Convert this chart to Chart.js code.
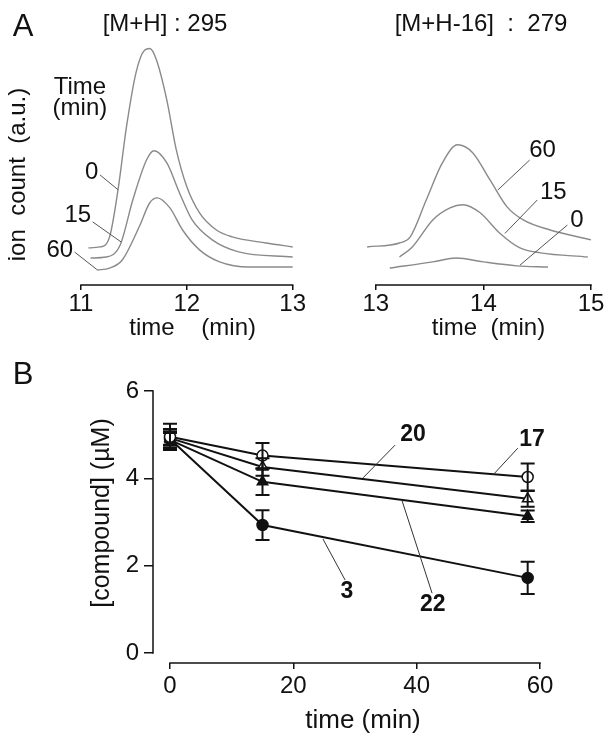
<!DOCTYPE html>
<html>
<head>
<meta charset="utf-8">
<script src="https://cdn.jsdelivr.net/npm/chart.js@4.4.1/dist/chart.umd.min.js"></script>
<style>
  body { margin: 0; background: #fff; }
  #wrap { position: relative; width: 612px; height: 744px; font-family: "Liberation Sans", Arial, sans-serif; color: #111; }
  canvas { position: absolute; }
  .lbl { position: absolute; white-space: pre; line-height: 1; transform: translate(-50%, -50%); }
</style>
</head>
<body>
<div id="wrap">
  <canvas id="a1" width="306" height="346" style="left:0;top:0"></canvas>
  <canvas id="a2" width="306" height="346" style="left:306px;top:0"></canvas>
  <canvas id="b" width="612" height="404" style="left:0;top:340px"></canvas>
  <div class="lbl" style="left:23px;top:25px;font-size:31px">A</div>
  <div class="lbl" style="left:165px;top:23px;font-size:24px">[M+H] : 295</div>
  <div class="lbl" style="left:481px;top:23px;font-size:24px">[M+H-16]  :  279</div>
  <div class="lbl" style="left:23px;top:373px;font-size:31px">B</div>
</div>
<script>
// panel A, left: [M+H] 295 traces (time in min, ion count in a.u.)
const a1Time0 = [11.07, 11.18, 11.27, 11.35, 11.43, 11.52, 11.6, 11.65, 11.71, 11.81, 11.9, 12.0, 12.12, 12.28, 12.43, 12.75, 13.0]
const a1Ion0 = [15.1, 15.5, 19.6, 38.8, 64.5, 86.5, 95.6, 96.3, 92.0, 75.5, 55.1, 40, 29.4, 22.4, 19.6, 17.1, 15.5]
const a1Time15 = [11.09, 11.24, 11.37, 11.49, 11.62, 11.69, 11.81, 11.93, 12.05, 12.24, 12.49, 13.0]
const a1Ion15 = [11.0, 11.4, 16.3, 34.7, 51.0, 54.7, 49.8, 37.6, 26.5, 18.4, 13.5, 11.4]
const a1Time60 = [11.15, 11.27, 11.39, 11.55, 11.65, 11.72, 11.84, 11.96, 12.12, 12.31, 12.59, 13.0]
const a1Ion60 = [6.1, 6.9, 10.2, 23.7, 33.5, 35.5, 31.4, 22.4, 14.3, 9.4, 7.3, 7.3]
const a1Ticks = [11, 12, 13]

// panel A, right: [M+H-16] 279 traces
const a2Time60 = [12.92, 13.22, 13.32, 13.47, 13.62, 13.76, 13.9, 14.06, 14.22, 14.37, 14.62, 15.0]
const a2Ion60 = [15.5, 17.1, 19.6, 34.7, 49.8, 57.1, 53.9, 42.9, 31.8, 26.5, 22.4, 18.4]
const a2Time15 = [13.22, 13.34, 13.53, 13.69, 13.81, 13.97, 14.15, 14.34, 14.53, 14.97]
const a2Ion15 = [11.4, 15.5, 26.5, 31.4, 32.7, 29.4, 21.2, 15.1, 13.1, 11.4]
const a2Time0 = [13.13, 13.53, 13.75, 14.0, 14.31, 14.6]
const a2Ion0 = [6.9, 9.4, 11.0, 9.4, 7.8, 7.3]
const a2Ticks = [13, 14, 15]

// panel B: compound concentration (uM) vs time (min)
const bTimes = [0, 15, 58]
const c17 = [4.95, 4.52, 4.03]
const e17 = [0.3, 0.29, 0.31]
const c20 = [4.92, 4.26, 3.53]
const e20 = [0.21, 0.2, 0.18]
const c22 = [4.88, 3.92, 3.13]
const e22 = [0.2, 0.3, 0.13]
const c3 = [4.9, 2.93, 1.72]
const e3 = [0.14, 0.34, 0.37]
const bxTicks = [0, 20, 40, 60]
const byTicks = [0, 2, 4, 6]

Chart.defaults.font.family = '"Liberation Sans", Arial, sans-serif'
Chart.defaults.color = '#111'

// offset axis lines, drawn only between the given values
const axisLines = {
  id: 'axisLines',
  afterDraw(chart, args, opts) {
    const { ctx, chartArea, scales } = chart
    ctx.save()
    ctx.strokeStyle = '#111'
    ctx.lineWidth = 1.5
    if (opts.x) {
      ctx.beginPath()
      ctx.moveTo(scales.x.getPixelForValue(opts.x[0]) - 0.75, chartArea.bottom)
      ctx.lineTo(scales.x.getPixelForValue(opts.x[1]) + 0.75, chartArea.bottom)
      ctx.stroke()
    }
    if (opts.y) {
      ctx.beginPath()
      ctx.moveTo(chartArea.left, scales.y.getPixelForValue(opts.y[0]) + 0.75)
      ctx.lineTo(chartArea.left, scales.y.getPixelForValue(opts.y[1]) - 0.75)
      ctx.stroke()
    }
    ctx.restore()
  }
}

// text labels with leader lines, placed in data units
const notes = {
  id: 'notes',
  afterDraw(chart, args, opts) {
    const { ctx, scales: { x, y } } = chart
    ctx.save()
    ctx.strokeStyle = opts.lineColor || '#444'
    ctx.lineWidth = 1
    ;(opts.leaders || []).forEach(([x1, y1, x2, y2]) => {
      ctx.beginPath()
      ctx.moveTo(x.getPixelForValue(x1), y.getPixelForValue(y1))
      ctx.lineTo(x.getPixelForValue(x2), y.getPixelForValue(y2))
      ctx.stroke()
    })
    ctx.fillStyle = '#111'
    ctx.font = opts.font
    ctx.textAlign = 'center'
    ctx.textBaseline = 'middle'
    ;(opts.labels || []).forEach(([t, vx, vy]) => {
      ctx.fillText(t, x.getPixelForValue(vx), y.getPixelForValue(vy))
    })
    ctx.restore()
  }
}

const errorBars = {
  id: 'errorBars',
  afterDatasetsDraw(chart, args, opts) {
    const { ctx, scales: { y } } = chart
    ctx.save()
    ctx.strokeStyle = '#111'
    ctx.lineWidth = 2
    chart.data.datasets.forEach((ds, i) => {
      const errs = opts.errors[i]
      chart.getDatasetMeta(i).data.forEach((pt, j) => {
        const v = ds.data[j].y
        const top = y.getPixelForValue(v + errs[j])
        const bot = y.getPixelForValue(v - errs[j])
        ctx.beginPath()
        ctx.moveTo(pt.x, top); ctx.lineTo(pt.x, bot)
        ctx.moveTo(pt.x - 7, top); ctx.lineTo(pt.x + 7, top)
        ctx.moveTo(pt.x - 7, bot); ctx.lineTo(pt.x + 7, bot)
        ctx.stroke()
      })
    })
    ctx.restore()
  }
}

function trace(xs, ys) {
  return {
    data: xs.map((t, i) => ({ x: t, y: ys[i] })),
    borderColor: '#8a8a8a',
    borderWidth: 1.4,
    pointRadius: 0,
    fill: false,
    clip: false,
    cubicInterpolationMode: 'monotone'
  }
}

function timeAxis(min, max, ticks, title) {
  return {
    type: 'linear',
    min, max,
    afterBuildTicks: s => { s.ticks = ticks.map(v => ({ value: v })) },
    afterFit: s => { s.height = 61 },
    grid: { drawOnChartArea: false, color: '#111', lineWidth: 1.5, tickLength: 5 },
    border: { display: false },
    ticks: { font: { size: 24 }, color: '#111', padding: 0, maxRotation: 0, autoSkip: false },
    title: { display: true, text: title, font: { size: 24 }, color: '#111', padding: { top: 0, bottom: 3 } }
  }
}

const base = {
  responsive: false,
  animation: false,
  events: []
}

new Chart(document.getElementById('a1'), {
  type: 'line',
  data: { datasets: [trace(a1Time0, a1Ion0), trace(a1Time15, a1Ion15), trace(a1Time60, a1Ion60)] },
  options: {
    ...base,
    layout: { padding: { left: 0, right: 0, top: 64, bottom: 0 } },
    plugins: {
      legend: { display: false },
      tooltip: { enabled: false },
      axisLines: { x: [11, 13] },
      notes: {
        font: '24px "Liberation Sans", Arial, sans-serif',
        lineColor: '#555',
        labels: [['Time', 10.99, 80.6], ['(min)', 10.99, 72.1], ['0', 11.1, 46.0], ['15', 10.97, 28.5], ['60', 10.8, 14.25]],
        leaders: [[11.18, 44.8, 11.35, 38.8], [11.11, 25.7, 11.38, 17.5], [10.94, 13.4, 11.15, 6.3]]
      }
    },
    scales: {
      x: timeAxis(11, 13.11, a1Ticks, 'time    (min)'),
      y: {
        min: 0, max: 90,
        afterFit: s => { s.width = 81 },
        ticks: { display: false },
        grid: { display: false },
        border: { display: false },
        title: { display: true, text: 'ion  count  (a.u.)', font: { size: 24 }, color: '#111', padding: { top: 4 } }
      }
    }
  },
  plugins: [axisLines, notes]
})

new Chart(document.getElementById('a2'), {
  type: 'line',
  data: { datasets: [trace(a2Time60, a2Ion60), trace(a2Time15, a2Ion15), trace(a2Time0, a2Ion0)] },
  options: {
    ...base,
    layout: { padding: { left: 59, right: 0, top: 64, bottom: 0 } },
    plugins: {
      legend: { display: false },
      tooltip: { enabled: false },
      axisLines: { x: [13, 15] },
      notes: {
        font: '24px "Liberation Sans", Arial, sans-serif',
        lineColor: '#555',
        labels: [['60', 14.55, 55.0], ['15', 14.65, 37.9], ['0', 14.87, 26.5]],
        leaders: [[14.43, 50.9, 14.135, 38.7], [14.5, 34.6, 14.2, 21.0], [14.78, 24.4, 14.34, 8.1]]
      }
    },
    scales: {
      x: timeAxis(12.9, 15.195, a2Ticks, 'time  (min)'),
      y: { display: false, min: 0, max: 90 }
    }
  },
  plugins: [axisLines, notes]
})

function series(vals, style, filled, radius) {
  return {
    data: bTimes.map((t, i) => ({ x: t, y: vals[i] })),
    borderColor: '#111',
    borderWidth: 2,
    pointStyle: style,
    pointRadius: radius,
    pointBorderColor: '#111',
    pointBorderWidth: 1.5,
    pointBackgroundColor: filled ? '#111' : '#fff',
    fill: false,
    tension: 0
  }
}

new Chart(document.getElementById('b'), {
  type: 'line',
  data: {
    datasets: [
      series(c17, 'circle', false, 5.5),
      series(c20, 'triangle', false, 6),
      series(c22, 'triangle', true, 6),
      series(c3, 'circle', true, 5.5)
    ]
  },
  options: {
    ...base,
    layout: { padding: { left: 0, right: 39, top: 23, bottom: 0 } },
    plugins: {
      legend: { display: false },
      tooltip: { enabled: false },
      axisLines: { x: [0, 60], y: [0, 6] },
      errorBars: { errors: [e17, e20, e22, e3] },
      notes: {
        font: 'bold 23px "Liberation Sans", Arial, sans-serif',
        lineColor: '#333',
        labels: [['20', 39.4, 4.99], ['17', 58.7, 4.88], ['22', 42.6, 1.1], ['3', 28.7, 1.4]],
        leaders: [[36.5, 4.76, 31.3, 4.01], [56.4, 4.69, 52.4, 4.08], [42.5, 1.37, 37.6, 3.5], [28.4, 1.67, 24.8, 2.61]]
      }
    },
    scales: {
      x: {
        type: 'linear',
        min: -2.757, max: 65.35,
        afterBuildTicks: s => { s.ticks = bxTicks.map(v => ({ value: v })) },
        afterFit: s => { s.height = 81 },
        grid: { drawOnChartArea: false, color: '#111', lineWidth: 1.5, tickLength: 6 },
        border: { display: false },
        ticks: { font: { size: 24 }, color: '#111', padding: 3, maxRotation: 0, autoSkip: false },
        title: { display: true, text: 'time (min)', font: { size: 26 }, color: '#111', padding: { top: 0, bottom: 8 } }
      },
      y: {
        min: -0.229, max: 6.64,
        afterBuildTicks: s => { s.ticks = byTicks.map(v => ({ value: v })) },
        afterFit: s => { s.width = 153 },
        grid: { drawOnChartArea: false, color: '#111', lineWidth: 1.5, tickLength: 9 },
        border: { display: false },
        ticks: { font: { size: 24 }, color: '#111', padding: 5 },
        title: { display: true, text: '[compound] (µM)', font: { size: 25 }, color: '#111', padding: { top: 87 } }
      }
    }
  },
  plugins: [axisLines, errorBars, notes]
})
</script>
</body>
</html>
